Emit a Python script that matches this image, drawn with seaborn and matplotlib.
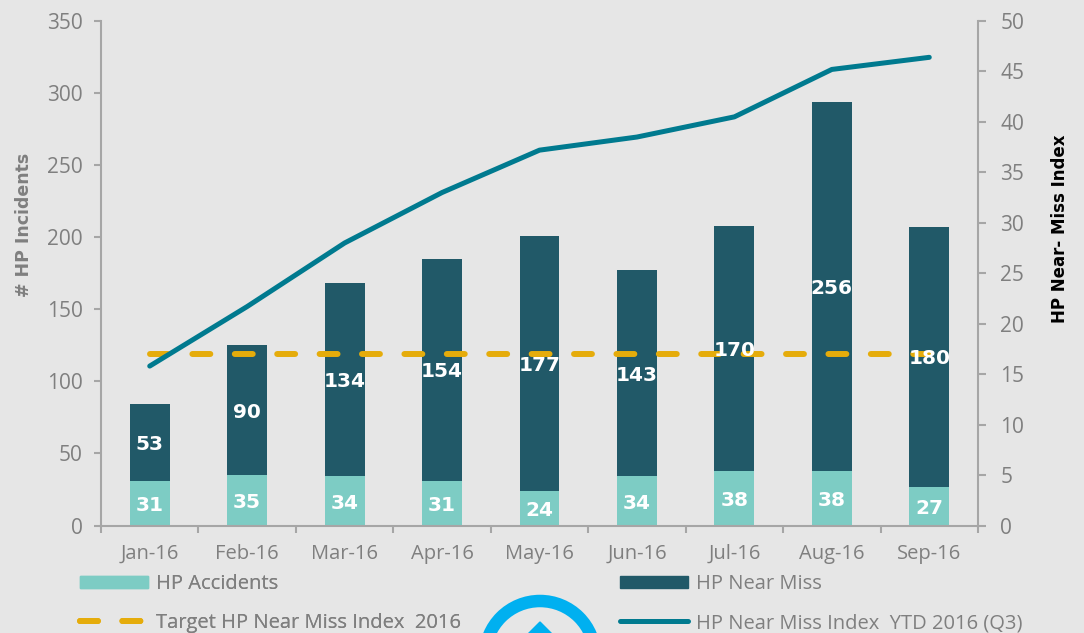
import matplotlib
matplotlib.use("Agg")
import matplotlib.pyplot as plt
import seaborn as sns
from matplotlib.lines import Line2D
from matplotlib.patches import Patch, Circle, Polygon
from matplotlib.ticker import FixedLocator, NullFormatter

months = ["Jan-16", "Feb-16", "Mar-16", "Apr-16", "May-16", "Jun-16", "Jul-16", "Aug-16", "Sep-16"]
accidents = [31, 35, 34, 31, 24, 34, 38, 38, 27]
near_miss = [53, 90, 134, 154, 177, 143, 170, 256, 180]
target_index = [17, 17, 17, 17, 17, 17, 17, 17, 17]
ytd_index = [15.8, 21.7, 28.0, 33.0, 37.2, 38.5, 40.5, 45.2, 46.4]

BG = "#E6E6E6"
LIGHT = "#7DCCC4"
DARK = "#215968"
TEAL = "#007A8F"
GOLD = "#E5AC0B"
GREY = "#7F7F7F"
AXIS = "#A6A6A6"
W, H = 1084, 633
DASH = (0, (3.0, 4.1))

sns.set_theme(style="white")
plt.rcParams["font.family"] = ["Open Sans", "DejaVu Sans"]

fig = plt.figure(figsize=(W / 100, H / 100), dpi=100, facecolor=BG)
ax = fig.add_axes([101 / W, 1 - 525.5 / H, 877 / W, 504.5 / H], facecolor=BG)

# stacked bars
sns.barplot(x=months, y=accidents, color=LIGHT, width=0.41, saturation=1, linewidth=0, ax=ax)
sns.barplot(x=months, y=near_miss, bottom=accidents, color=DARK, width=0.41, saturation=1, linewidth=0, ax=ax)

ax.set_xlim(-0.5, 8.5)
ax.set_ylim(0, 350)
ax.set_yticks(range(0, 351, 50))
ax.xaxis.set_major_locator(FixedLocator(range(len(months))))
ax.set_xticklabels(months)
ax.xaxis.set_minor_locator(FixedLocator([i - 0.5 for i in range(len(months) + 1)]))
ax.xaxis.set_minor_formatter(NullFormatter())
ax.tick_params(axis="x", which="major", length=0, pad=13, labelsize=14.5, labelcolor=GREY)
ax.tick_params(axis="x", which="minor", length=5, width=1.5, color=AXIS, bottom=True)
ax.tick_params(axis="y", length=5, width=1.5, color=AXIS, labelsize=15, labelcolor=GREY, left=True, pad=8)
ax.set_ylabel("")
sns.despine(ax=ax, top=True, right=False)
for side in ["left", "bottom"]:
    ax.spines[side].set_color(AXIS)
    ax.spines[side].set_linewidth(1.5)
ax.spines["right"].set_visible(False)

# index lines on secondary axis
ax2 = ax.twinx()
ax2.set_ylim(0, 50)
sns.lineplot(x=months, y=target_index, color=GOLD, linewidth=4.3, ax=ax2, sort=False, zorder=4)
ax2.lines[0].set_linestyle(DASH)
ax2.lines[0].set_dash_capstyle("round")
sns.lineplot(x=months, y=ytd_index, color=TEAL, linewidth=3.6, ax=ax2, sort=False,
             solid_capstyle="round", zorder=5)
ax2.set_xlim(-0.5, 8.5)
ax2.set_yticks(range(0, 51, 5))
ax2.set_ylabel("")
ax2.tick_params(axis="y", length=6, width=1.5, color=AXIS, labelsize=15, labelcolor=GREY, right=True, pad=10)
for side in ["top", "left", "bottom"]:
    ax2.spines[side].set_visible(False)
ax2.spines["right"].set_color(AXIS)
ax2.spines["right"].set_linewidth(1.5)

# data labels go on ax2 so they sit above the lines
lab_kw = dict(xycoords=ax.transData, xytext=(0, -1.5), textcoords="offset points", color="white", fontsize=14.5,
              family="DejaVu Sans", fontweight="bold", ha="center", va="center", zorder=6)
for i in range(len(months)):
    ax2.annotate(str(accidents[i]), (i, accidents[i] / 2), **lab_kw)
    ax2.annotate(str(near_miss[i]), (i, accidents[i] + near_miss[i] / 2), **lab_kw)

fig.text(24 / W, 1 - 225 / H, "# HP Incidents", rotation=90, color=GREY, fontsize=12.5,
         family="DejaVu Sans", fontweight="bold", ha="center", va="center")
fig.text(1060 / W, 1 - 229 / H, "HP Near- Miss Index", rotation=90, color="black", fontsize=12,
         family="DejaVu Sans", fontweight="bold", ha="center", va="center")

# legend, two columns placed by hand
left_handles = [Patch(color=LIGHT), Line2D([], [], color=GOLD, lw=4.3, ls=DASH, dash_capstyle="round")]
left_labels = ["HP Accidents", "Target HP Near Miss Index  2016"]
right_handles = [Patch(color=DARK), Line2D([], [], color=TEAL, lw=3.6, solid_capstyle="round")]
right_labels = ["HP Near Miss", "HP Near Miss Index  YTD 2016 (Q3)"]
leg_kw = dict(frameon=False, fontsize=14.5, labelcolor=GREY, handleheight=0.6, labelspacing=0.95,
              handletextpad=0.35, borderaxespad=0, borderpad=0, loc="upper left")
fig.add_artist(fig.legend(left_handles, left_labels, bbox_to_anchor=(80 / W, 1 - 574 / H),
                          handlelength=3.4, **leg_kw))
fig.legend(right_handles, right_labels, bbox_to_anchor=(620 / W, 1 - 574 / H), handlelength=3.4, **leg_kw)

# logo cut off at the bottom edge
overlay = fig.add_axes([0, 0, 1, 1], facecolor="none")
overlay.set_xlim(0, W)
overlay.set_ylim(H, 0)
overlay.axis("off")
overlay.add_patch(Circle((540, 656), 55, fill=False, edgecolor="#00B0F0", linewidth=9))
overlay.add_patch(Polygon([(540, 622), (562, 644), (518, 644)], closed=True, color="#00B0F0"))

fig.savefig("out.png", dpi=100, facecolor=BG)
